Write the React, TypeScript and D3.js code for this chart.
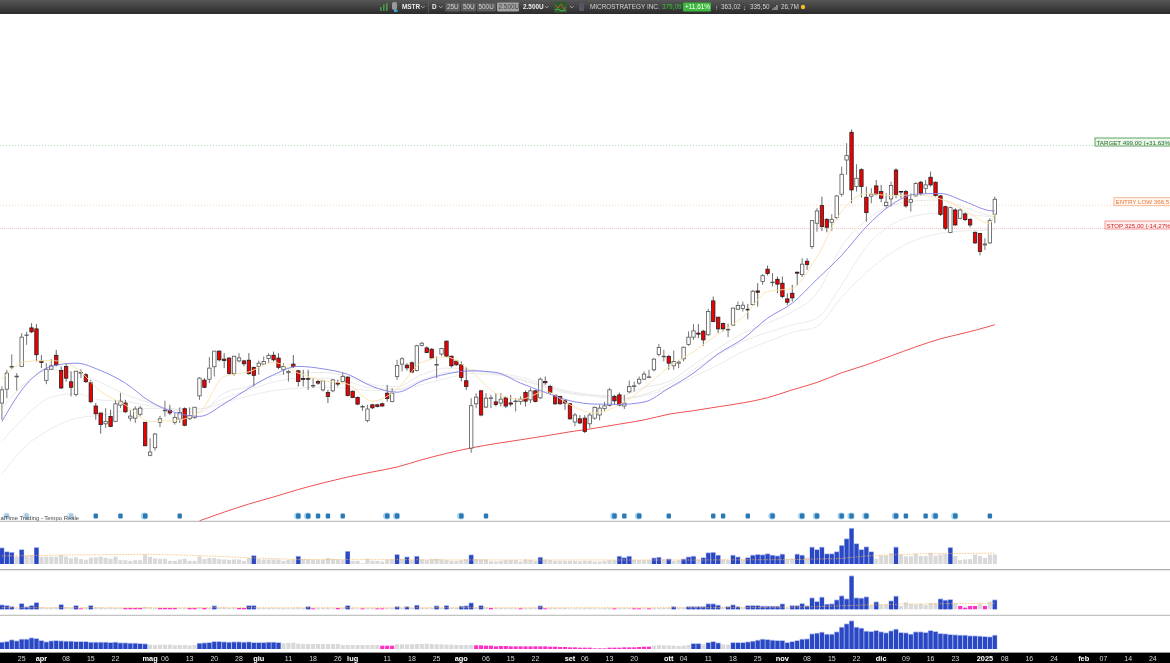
import * as d3 from "d3";

const W = 1170;
const H = 663;

// daily candles MSTR, [open, high, low, close]
const ohlc: number[][] = [
  [131.9,143.7,121,141.2],[141.7,156.6,135.3,154],[158.8,169.6,157.1,159.4],[151,154,140.7,151.6],[159.4,189.3,159,185.4],
  [186.9,190.6,178.2,187.5],[194.5,199.3,189.3,190.6],[193.5,198.3,163.5,169.3],[163.8,169,158,162.7],[148.2,162.1,145.4,157.1],
  [157.1,165.5,156.6,159.9],[168.8,173.6,159.4,160.7],[156,159.4,141.9,142.6],[159.4,162.1,147.4,150],[147.2,155.3,136.5,143.1],
  [137.9,155.6,136.5,155.5],[154,157.1,150,154.6],[152.7,154,146.7,147.2],[146.5,148.7,131.9,132.8],[129.9,131.9,121,124.8],
  [125.3,125.3,112.6,118],[118.5,128.5,116,120],[123.1,127.4,116.5,116.9],[120,134.1,119.8,131.4],[130.5,139,128.5,133.2],
  [131.9,134.1,125.3,126.1],[122,127,120,123.3],[122,129.7,119,127.9],[124.5,130,123.1,128.5],[119.4,119.6,105.5,105.8],
  [100.7,110,100.2,102.4],[104.7,113,103.2,112.4],[119.4,123.5,116.5,121.6],[126.9,133.4,123,127.1],[127,130.7,124,125.3],
  [119.4,125.3,118,122.5],[121.4,129,119,125.7],[128.1,129,117,117.6],[121.6,129,121,123.7],[122.3,129.2,121.8,129.1],
  [136.9,150.8,134.1,150],[148.5,150,142.4,143.1],[149.2,167.2,146.2,158],[159.1,172.7,151.3,172.5],[172.5,173,163.5,164.9],
  [165.5,170.7,158,164.3],[166.4,167.2,152.7,153.7],[153.5,168.3,151.9,168],[164,170.7,162.7,166.6],[164,164.9,159.4,161.6],
  [164.6,170.7,152.7,153.5],[158.5,159.4,143.7,152.2],[159.4,164.3,152.7,162.1],[161.3,167.8,160.7,163.5],[166,170.7,162.1,168.6],
  [168.9,172.1,163.5,164.9],[166.4,170.7,157.1,158.6],[156.6,162.1,152.7,159.4],[154.5,156.6,147.4,155.3],[161.3,169,158,159.4],
  [155.8,156.6,143.7,147.4],[149.7,156.6,143.7,149],[149.6,156.6,141.2,149.4],[144,150,142.5,144.5],[147.4,148.7,145,146.2],
  [141.2,148.7,140,148],[139.3,141.2,131.9,136.5],[140.5,149.2,139.5,148.7],[146.5,148.7,143.7,145.5],[147.4,154.5,146.7,151.3],
  [150.8,151.3,136.5,137.2],[140.2,140.7,135.3,135.8],[135.8,136.5,130.5,131.2],[129.3,130.7,126.7,129.6],[120.6,130.7,119.4,127.9],
  [130.7,131.4,127.9,128.7],[130.7,131.4,129,129.6],[131.4,132.2,129.3,129.9],[138.8,144.9,132.9,135],[132.9,142.4,132.4,138.8],
  [151.3,164.9,148.7,160.2],[161.3,167.2,155.3,165.8],[160.4,162.1,156,158.2],[162.4,163.5,154,154.8],[156.1,178.2,155.3,177.3],
  [177.6,180.9,176.7,179.7],[175.4,176.7,170.6,171.3],[174.2,175.1,165.8,166.6],[160.5,167.8,150,160.9],[169.9,175.4,168,174.8],
  [181.6,182.2,167.2,168],[168,168.6,158.5,159.9],[163.8,164.9,159.9,160.7],[160.7,163.5,147.4,150.5],[148,158.8,141.2,143.7],
  [104.5,135.3,102,130.1],[131.4,138.8,128.5,136],[140.5,141.2,123.2,124],[129.2,138.8,128.5,135.3],[135.1,137.6,128.5,135.5],
  [132.7,138.8,129.6,130.9],[131.9,138.8,129.6,134.6],[135.5,136.5,128.5,129.9],[132,137.6,129.6,131.2],[133,135.3,126.3,133.3],
  [132.9,136.5,130.7,134.6],[139.3,140.7,129.6,133.2],[134.1,142.4,131.9,140.5],[140.5,141.2,132.4,133],[135.5,150.5,134.6,149.2],
  [147.4,151.3,145,146.5],[143.7,145,138.3,139.3],[137.4,137.6,130.7,131.4],[136.5,137,130.7,131.4],[133.4,134.1,127.4,131.9],
  [131.4,132,121,121.6],[119.6,125.3,117,124],[121.6,123.9,118.3,119],[122,123.9,112.9,113.9],[118.5,125.3,116,124],
  [122,129.6,121,129],[124,130.7,120.6,128.5],[128.3,132.8,126.3,130],[130.2,142.4,129.6,141.2],[136.5,137.6,130.7,133.4],
  [137.6,139.3,129.6,130.5],[129.9,137.6,127.9,131.9],[139.8,148.2,138.8,143.7],[143.9,147.4,140,144.2],[146.2,151.3,145,149.2],
  [149.2,155.3,148.7,153.2],[150.5,156.6,150,151],[156.6,166.4,155.3,165.5],[169.5,179.1,167.8,175.7],[167.6,173.6,163.5,168],
  [167.8,169.2,156.6,162.1],[159.9,173,156.6,163.5],[162.1,164.9,158,163],[165.8,176.7,163.5,176],[178.5,191,177.3,185.4],
  [185.4,198.3,182.8,191.5],[189.3,198.3,184.4,188.3],[191.2,192.5,177.3,182.8],[187.7,214.5,186.7,211.6],[223.6,228.7,200.3,201],
  [205.6,205.7,189.3,193.5],[199,199.9,190.9,193.5],[192.7,199,185.4,193],[197.2,216,196.9,215.4],[214.2,222.8,213.4,218.3],
  [215,222.8,211.6,218.7],[214.1,220.2,203.4,213.4],[219.3,236.6,218.3,235],[235.4,245,217.2,233.8],[247.1,257,243,254.7],
  [263.4,268.4,255,257.6],[246,258,240.9,246.4],[250,253.6,232.6,243.8],[245,253.6,226.7,228.7],[225.9,232.6,218.9,222],
  [232.6,242.9,222.8,227.1],[259.3,260.2,241.8,258],[256.1,278.7,253,270.3],[274.4,278.7,262.4,269.8],[296,339.6,292.4,338.5],
  [334,360.8,319.8,355.8],[365.8,383.3,320.9,328.2],[340.8,342.6,318.7,327],[335.6,349.8,320.9,340.8],[343.8,385.9,339.6,384.6],
  [388,447.5,383.3,430.1],[463,504.8,428.7,473.6],[534.3,542.4,370.3,396.6],[403.6,452.9,393.3,421.3],[440.4,443.6,381.3,403.6],
  [382,403.6,336.8,352.8],[384,400,370.3,388],[405,417.6,385.3,388],[393.3,407.1,372.2,380],[365.8,390,362,372.2],
  [378.6,414.1,364,405.7],[439.7,443.6,380,386.6],[393.5,394.8,380,393.3],[393.3,396.6,362,365.2],[372.2,390,354.6,377.3],
  [384.6,412.8,383.3,409.9],[412.8,415.5,385.3,390],[400,417.6,390,407.1],[423.5,436,403.6,407.1],[412.8,414.1,383.3,385.3],
  [384.6,386.6,346.8,349.2],[363.9,365.2,322.5,325.4],[318.2,363.9,317.1,362],[357.6,360.8,329.7,331],[342.6,360.8,340.8,357.6],
  [350.4,353.4,337.9,340.2],[340.8,342.6,326.9,331],[318.7,319.8,300,301.7],[316.6,317.7,283,288.5],[298.6,309,290.9,300],
  [301.7,342.6,300,338.5],[350,383.3,334,378],
];

// moving averages, read every 5 sessions
const maBars = [0,5,10,15,20,25,30,35,40,45,50,55,60,65,70,75,80,85,90,95,100,105,110,115,120,125,130,135,140,145,150,155,160,165,170,175,180,185,190,195,200,201];
const maBlue = [119.9,145.5,159.4,162.1,156,146.2,133,125.7,123.1,131.4,142.4,152.7,159.4,157.4,153,143.7,139.5,147.7,153.3,155.8,154.5,146.2,139.3,133.5,131.2,131,132.6,142.4,154,170.1,183.8,204.5,221,250,283,328,366.9,388,389.5,373.3,356.4,355.8];
const maYellow = [149.2,163.5,164.3,158,140,130.5,120,120.6,125.7,151.3,155,162.7,154,148.2,145.5,133.2,141.7,162.7,167.2,155.3,138.8,134.6,140,130.7,125.3,130.7,142.7,158.8,172,188.5,205.6,234.6,238.7,281,355,389.3,385.5,386.6,378.5,356.4,334,351.6];
const maGrayA = [128.5,147,156.6,154,146.7,137.9,131.9,127,125.9,139,143.7,152,154,154.5,151.3,145,143.7,152.7,158,157,153.5,148.7,143.2,138.4,137,137,143,147.4,160.7,175,189.2,199.3,211.5,232.7,296,339.6,365.6,375,376.6,361.9,347.4,345.6];
const maGrayB = [108,124,136,138.5,134,133,130,128,127.9,135.3,141.2,147,150,150,147.4,142.4,141.7,148.7,154.5,155.3,154,150.8,145,140,137.6,135.3,138,145,156.6,169.2,181.2,190,197.5,204.5,243,296,331,347.4,351.6,349.8,345.6,345];
const maGrayC = [91.5,106,115.5,122,123.8,127,128.3,127.9,127.9,132.3,136.9,140.7,142.4,143.2,142.2,140.7,141.2,145,150,153.5,152.7,149.2,143.7,139.3,136.5,134.6,137,142.4,151.2,160.7,172,181.2,190,196,228,258.9,286.2,306.3,317,320.9,322.5,323];
// the 200 day line only enters the pane at session 40
const maRed = [71.8,75.1,78.3,81.2,84.4,87.3,90,92.4,94.8,98.4,101.7,104.6,107,109.1,111.3,113.7,115.8,118.3,120.9,124.5,126.8,129.4,132,135.6,141.2,146.7,154.2,160.7,168.3,176.3,183.8,189.6,196.2,197.8];

const levels = [
  { name: "TARGET 499,00 (+31,63%", price: 499, boxX: 1095, stroke: "#3a8f3a", fill: "#eef7ee", text: "#1f6b1f", dash: "1,2", line: "#a9d6a9" },
  { name: "ENTRY LOW 366,5", price: 366.5, boxX: 1114, stroke: "#f5a878", fill: "#fff7f0", text: "#e8783a", dash: "1,2", line: "#f8cdb0" },
  { name: "STOP 325,00 (-14,27%", price: 325, boxX: 1105, stroke: "#f08080", fill: "#fff0f0", text: "#d92020", dash: "1,1", line: "#f7bcbc" },
];

// session numbers with a news flag above the pane
const flagBars = [1,5,14,19,24,29,36,60,62,64,66,69,78,80,93,98,124,126,129,135,144,146,151,156,162,165,170,172,175,181,183,187,189,193,200];
const flagHalo = [29,60,62,78,80,93,124,129,156,162,165,170,172,175,181,189,193];
const flagFaint = [1,5,14];

const volume = [
  45,34,32,21,40,23,26,46,21,21, 21,21,26,21,16,19,14,12,18,19, 21,18,15,21,11,11,9,11,11,27, 21,16,15,15,9,9,13,15,9,9,
  22,14,17,17,14,13,12,13,13,9, 17,23,14,13,13,13,13,9,12,13, 21,14,13,12,11,12,17,14,13,11, 35,9,9,2,15,9,9,7,13,13,
  26,15,19,11,21,13,11,14,15,13, 11,9,9,11,13,25,14,13,13,8, 7,9,11,11,11,7,13,12,9,18, 13,11,9,9,9,9,9,8,9,9,
  7,7,9,11,11,21,17,21,12,11, 11,11,16,18,13,13,9,11,13,19, 21,13,17,31,32,24,13,11,24,19, 13,17,24,26,25,28,24,22,27,15,
  16,27,24,18,47,40,47,28,28,34, 52,71,101,57,40,48,34,15,24,24, 31,47,27,22,22,29,23,23,32,24, 27,29,46,23,11,13,14,27,23,18,27,27,
];
const volumeBlue = [0,1,2,4,7,51,60,70,80,82,84,95,109,125,126,127,132,133,135,138,139,140,142,143,144,145,148,149,151,152,153,154,155,156,157,158,161,162,164,165,166,167,168,169,170,171,172,173,174,175,176,181,192];
const volumeAvgBars = [0,15,30,40,50,60,100,140,160,170,175,185,201];
const volumeAvg = [23,26,28,24,18,13,11.5,11.5,12.5,16,23,29,31];

const flow = [
  12,10,7,3,16,6,10,19,6,4, 5,5,13,6,5,10,3,5,10,5, 5,4,5,4,4,4,4,4,4,7, 5,4,4,4,4,4,4,4,4,4,
  6,4,4,9,5,5,4,5,4,4, 10,10,4,4,4,4,4,4,3,4, 5,4,7,3,4,4,4,3,4,4, 10,4,3,3,4,4,3,3,4,4,
  7,4,7,4,11,4,4,4,9,4, 10,4,4,8,9,18,5,10,5,4, 4,4,4,4,4,3,4,4,4,9, 3,4,4,4,4,3,3,3,4,4,
  3,3,4,4,3,4,4,4,3,3, 4,3,4,4,4,5,7,5,5,7, 7,7,7,15,15,11,6,7,12,7, 5,10,10,10,8,8,8,8,15,5,
  10,10,16,9,33,22,35,14,15,27, 39,30,99,33,32,36,13,21,14,14, 24,38,10,21,16,14,16,13,18,18, 30,26,28,18,10,5,10,10,17,10,23,27,
];
const flowBlue = [0,1,2,4,5,6,7,12,15,18,43,50,51,62,70,80,82,84,88,90,93,94,95,97,109,136,139,140,141,142,143,144,145,147,148,149,151,152,153,154,155,156,157,158,160,161,162,163,164,165,166,167,168,169,170,171,172,173,174,175,177,180,181,190,191,192,201];
const flowPink = [16,25,26,27,28,32,33,34,35,38,39,41,48,49,63,68,73,76,77,99,105,110,124,128,129,131,194,195,196,197,199];
const flowAvgBars = [0,100,150,165,175,185,201];
const flowAvg = [5,5,5,8,13,16,18];

const trend = [
  19,21,26,23,28,28,32,30,24,20, 23,24,23,22,22,21,21,21,19,19, 19,19,18,19,17,17,16,16,15,14, 13,12,13,13,13,11,12,12,11,12,
  16,17,18,21,21,20,19,20,20,19, 20,18,18,18,19,19,18,17,18,19, 16,15,15,15,15,15,15,15,15,12, 12,12,12,12,12,12,12,10,10,10,
  14,14,14,14,15,15,16,15,14,14, 13,13,12,12,12,12,11,11,10,10, 8,9,9,8,8,8,8,8,8,8, 8,7,7,6,6,5,5,4,4,4,
  2,2,2,4,4,4,5,5,5,6, 7,7,10,12,11,11,10,9,10,12, 15,15,14,18,21,17,14,13,18,18, 18,20,22,25,28,27,25,24,24,18,
  21,24,28,29,44,46,49,43,43,50, 64,74,83,64,61,52,51,54,50,47, 53,58,48,47,43,50,50,48,54,51, 45,44,42,41,40,40,38,38,37,36,35,40,
];
const trendBlue = [...d3.range(0, 30), ...d3.range(40, 57), 140, 141, 143, 144, 145, ...d3.range(148, 202)];
const trendPink = [77, 78, 79, ...d3.range(96, 132)];

const timeTicks: [number, string, boolean][] = [
  [4,"25",false],[8,"apr",true],[13,"08",false],[18,"15",false],[23,"22",false],[30,"mag",true],[33,"06",false],[38,"13",false],[43,"20",false],[48,"28",false],
  [52,"giu",true],[58,"11",false],[63,"18",false],[68,"26",false],[71,"lug",true],[78,"11",false],[83,"18",false],[88,"25",false],[93,"ago",true],[98,"06",false],
  [103,"15",false],[108,"22",false],[115,"set",true],[118,"06",false],[123,"13",false],[128,"20",false],[135,"ott",true],[138,"04",false],[143,"11",false],[148,"18",false],
  [153,"25",false],[158,"nov",true],[163,"08",false],[168,"15",false],[173,"22",false],[178,"dic",true],[183,"09",false],[188,"16",false],[193,"23",false],[199,"2025",true],
  [203,"08",false],[208,"16",false],[213,"24",false],[219,"feb",true],[223,"07",false],[228,"14",false],[233,"24",false],
];

const x = d3.scaleLinear().domain([0, 201]).range([1.9, 994.8]);
// log price axis, pinned on the target and stop lines
const y = d3.scaleLog().domain([499, 325]).range([145.5, 228.5]);
const vol = d3.scaleLinear().domain([0, 103]).range([564, 528]);
const flowY = d3.scaleLinear().domain([0, 99]).range([609.3, 576.3]);
const trendY = d3.scaleLinear().domain([0, 83]).range([649, 621.3]);

const maPath = d3
  .line<number>()
  .x((_, i) => x(maBars[i]))
  .y((d) => y(d))
  .curve(d3.curveMonotoneX);

const redPath = d3
  .line<number>()
  .x((_, i) => x(maBars[i + 8]))
  .y((d) => y(d))
  .curve(d3.curveMonotoneX);

function avgLine(bars: number[], vals: number[], sy: d3.ScaleLinear<number, number>) {
  return d3
    .line<number>()
    .x((_, i) => x(bars[i]))
    .y((d) => sy(d))(vals) ?? "";
}

const BLUE = "#2a46c4";
const PINK = "#ff2fc4";
const GRAY = "#d9d9d9";
const barW = 4.1;

function Bars({ values, sy, blue, pink }: { values: number[]; sy: d3.ScaleLinear<number, number>; blue: number[]; pink?: number[] }) {
  const b = new Set(blue);
  const p = new Set(pink ?? []);
  const base = sy(0);
  return (
    <g>
      {values.map((v, i) => {
        const c = b.has(i) ? BLUE : p.has(i) ? PINK : GRAY;
        return (
          <g key={i}>
            {c === BLUE && <rect x={x(i) - barW / 2 - 0.4} y={sy(v) - 0.8} width={barW + 0.8} height={base - sy(v) + 0.8} fill="#aebcf0" />}
            <rect x={x(i) - barW / 2} y={sy(v)} width={barW} height={base - sy(v)} fill={c} />
          </g>
        );
      })}
    </g>
  );
}

// toolbar dropdown arrow
function Chevron({ at }: { at: number }) {
  return <path d={`M${at} 6 l1.8 1.8 l1.8 -1.8`} fill="none" stroke="#cfcfcf" strokeWidth={0.7} />;
}

const font = "'Liberation Sans', Arial, sans-serif";

export default function App() {
  const halo = new Set(flagHalo);
  const faint = new Set(flagFaint);
  return (
    <svg
      width={W}
      height={H}
      viewBox={`0 0 ${W} ${H}`}
      style={{ position: "absolute", left: 0, top: 0, background: "#fff", fontFamily: font }}
    >
      <defs>
        <filter id="soft" x="-2%" y="-2%" width="104%" height="104%">
          <feGaussianBlur stdDeviation="0.42" />
        </filter>
        <linearGradient id="toolbar" x1="0" x2="0" y1="0" y2="1">
          <stop offset="0" stopColor="#565656" />
          <stop offset="1" stopColor="#2b2b2b" />
        </linearGradient>
        <clipPath id="pricePane">
          <rect x={0} y={15} width={W} height={506} />
        </clipPath>
      </defs>

      <g filter="url(#soft)">
        {/* toolbar */}
        <rect x={0} y={0} width={W} height={14} fill="url(#toolbar)" />
        <g fontSize={6.4} fill="#d4d4d4">
          <rect x={380} y={7} width={1.6} height={4} fill="#4c9a4c" />
          <rect x={383} y={4.5} width={1.6} height={6.5} fill="#4c9a4c" />
          <rect x={386} y={3} width={1.6} height={8} fill="#4c9a4c" />
          <rect x={392} y={2} width={5} height={8} rx={2} fill="#9a9a9a" />
          <rect x={394} y={9.5} width={3.5} height={2.5} fill="#3aa3e0" />
          <text x={402} y={9} fontWeight="bold" fill="#eee">MSTR</text>
          <Chevron at={421} />
          <rect x={428} y={1} width={0.6} height={12} fill="#666" />
          <text x={432} y={9} fontWeight="bold" fill="#eee">D</text>
          <Chevron at={439} />
          <rect x={445} y={2.5} width={15} height={9} rx={1} fill="#5c5c5c" />
          <rect x={461} y={2.5} width={15} height={9} rx={1} fill="#5c5c5c" />
          <rect x={477} y={2.5} width={19} height={9} rx={1} fill="#5c5c5c" />
          <text x={447} y={9}>25U</text>
          <text x={463} y={9}>50U</text>
          <text x={478.5} y={9}>500U</text>
          <rect x={497} y={2.5} width={22} height={9} rx={1} fill="#a0a0a0" />
          <text x={498.5} y={9} fill="#444">2.500U</text>
          <text x={523} y={9} fontWeight="bold" fill="#eee">2.500U</text>
          <Chevron at={545} />
          <rect x={554} y={1.5} width={13} height={11} fill="#2e5a2e" />
          <path d="M555 5 L558 8 L561 4 L564 9 L566 7" fill="none" stroke="#e0563f" strokeWidth={0.8} />
          <path d="M555 10 L558 9 L561 11 L566 10" fill="none" stroke="#5fd05f" strokeWidth={0.8} />
          <Chevron at={570} />
          <rect x={579} y={3} width={5} height={8} fill="#556" />
          <text x={590} y={9}>MICROSTRATEGY INC.</text>
          <text x={662} y={9} fill="#37c437">379,09</text>
          <rect x={683} y={2.5} width={28} height={9} rx={1} fill="#3cb83c" />
          <text x={685} y={9} fill="#fff">+11,61%</text>
          <text x={715} y={9.5} fontSize={6.5}>↑</text>
          <text x={721} y={9}>363,02</text>
          <text x={743} y={9.5} fontSize={6.5}>↓</text>
          <text x={750} y={9}>335,50</text>
          <path d="M773 10 v-1.5 M775 10 v-3 M777 10 v-5" stroke="#ccc" strokeWidth={1} />
          <text x={781} y={9}>26,7M</text>
          <circle cx={803} cy={7} r={2.2} fill="#f5b921" />
        </g>

        {/* trade levels */}
        {levels.map((l) => (
          <line key={l.name} x1={0} x2={l.boxX} y1={y(l.price)} y2={y(l.price)} stroke={l.line} strokeWidth={0.9} strokeDasharray={l.dash} />
        ))}

        <g clipPath="url(#pricePane)">
          <path d={maPath(maGrayC) ?? ""} fill="none" stroke="#e9e9e9" strokeWidth={0.9} />
          <path d={maPath(maGrayB) ?? ""} fill="none" stroke="#e9e9e9" strokeWidth={0.9} />
          <path d={maPath(maGrayA) ?? ""} fill="none" stroke="#e6e6e6" strokeWidth={0.9} />
          <path d={redPath(maRed) ?? ""} fill="none" stroke="#f05050" strokeWidth={1} />

          {ohlc.map(([o, h, l, c], i) => {
            const up = c >= o;
            const top = y(Math.max(o, c));
            const bot = y(Math.min(o, c));
            return (
              <g key={i}>
                <line x1={x(i)} x2={x(i)} y1={y(h)} y2={y(l)} stroke={up ? "#666" : "#555"} strokeWidth={0.9} />
                <rect
                  x={x(i) - 1.7}
                  y={top}
                  width={3.4}
                  height={Math.max(bot - top, 0.6)}
                  fill={up ? "#fff" : "#f00000"}
                  stroke={up ? "#555" : "#222"}
                  strokeWidth={0.8}
                />
              </g>
            );
          })}

          <path d={maPath(maYellow) ?? ""} fill="none" stroke="#fbe3a8" strokeWidth={0.9} />
          <path d={maPath(maBlue) ?? ""} fill="none" stroke="#7f7fe8" strokeWidth={0.9} />

          {flagBars.map((b) => (
            <g key={b} opacity={faint.has(b) ? 0.4 : 1}>
              {(halo.has(b) || faint.has(b)) && <circle cx={x(b) - 0.6} cy={516} r={3.6} fill="#a9d3ee" />}
              <rect x={x(b) - 2.2} y={513.5} width={4.4} height={5} rx={1} fill="#2b78b4" />
            </g>
          ))}
          <text x={0.5} y={520} fontSize={5.9} fill="#444">alTime Trading - Tempo Reale</text>
        </g>

        {levels.map((l) => (
          <g key={l.name + "box"}>
            <rect x={l.boxX} y={y(l.price) - 7.5} width={W - l.boxX + 4} height={8} fill={l.fill} stroke={l.stroke} strokeWidth={0.8} />
            <text x={l.boxX + 1.5} y={y(l.price) - 1} fontSize={6.2} fill={l.text}>{l.name}</text>
          </g>
        ))}

        {/* lower panes */}
        <rect x={0} y={520.8} width={W} height={0.9} fill="#a8a8a8" />
        <Bars values={volume} sy={vol} blue={volumeBlue} />
        <path d={avgLine(volumeAvgBars, volumeAvg, vol)} fill="none" stroke="#f7b55a" strokeWidth={0.7} strokeDasharray="1.6,1.2" />

        <rect x={0} y={569} width={W} height={1} fill="#ababab" />
        <rect x={0} y={570} width={W} height={1.4} fill="#ededed" />
        <Bars values={flow} sy={flowY} blue={flowBlue} pink={flowPink} />
        <path d={avgLine(flowAvgBars, flowAvg, flowY)} fill="none" stroke="#f7b55a" strokeWidth={0.7} strokeDasharray="1.6,1.2" />

        <rect x={0} y={614.8} width={W} height={0.9} fill="#ababab" />
        <Bars values={trend} sy={trendY} blue={trendBlue} pink={trendPink} />

        {/* time axis */}
        <rect x={0} y={652} width={W} height={1} fill="#9a9a9a" />
        <rect x={0} y={653} width={W} height={10} fill="#000" />
        {timeTicks.map(([b, label, major]) => (
          <text
            key={b}
            x={x(b)}
            y={660.5}
            fontSize={major ? 7.4 : 7}
            fontWeight={major ? "bold" : "normal"}
            fill={major ? "#fff" : "#d8d8d8"}
            textAnchor="middle"
          >
            {label}
          </text>
        ))}
      </g>
    </svg>
  );
}
